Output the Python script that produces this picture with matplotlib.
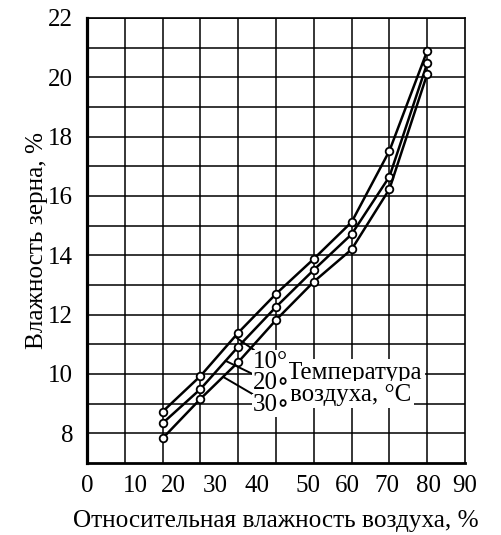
import numpy as np
import matplotlib
matplotlib.use('Agg')
import matplotlib.pyplot as plt

plt.rcParams['font.family'] = ['Liberation Serif', 'DejaVu Serif']

# relative air humidity, %
rh = [18, 27, 36, 45, 54, 63, 72, 81]
# grain moisture, % at air temperature 10, 20, 30 C
t10 = [8.73, 9.93, 11.39, 12.70, 13.88, 15.12, 17.52, 20.89]
t20 = [8.34, 9.49, 10.92, 12.26, 13.51, 14.71, 16.65, 20.47]
t30 = [7.83, 9.16, 10.40, 11.82, 13.11, 14.20, 16.23, 20.11]

x_tick_labels = ['0', '10', '20', '30', '40', '50', '60', '70', '80', '90']
# label positions as printed (irregular in the original figure)
x_tick_pos = [0, 11.4, 20.5, 30.5, 40.5, 52.6, 61.9, 71.4, 81.2, 90]
x_grid = [9, 18, 27, 36, 45, 54, 63, 72, 81]
y_ticks = list(range(8, 23))

fig = plt.figure(figsize=(5.02, 5.35), dpi=100)
ax = fig.add_axes([0.1733, 0.1346, 0.753, 0.8318])

for vals in (t10, t20, t30):
    ax.plot(rh, vals, color='black', lw=1.8, marker='o', ms=5.5,
            mfc='white', mec='black', mew=1.3, zorder=3)

ax.set_xlim(0, 90)
ax.set_ylim(7, 22)
ax.set_xticks(x_tick_pos)
ax.set_xticklabels(x_tick_labels)
ax.set_xticks(x_grid, minor=True)
ax.set_yticks(y_ticks)
ax.set_yticklabels([str(v) if v % 2 == 0 else '' for v in y_ticks])
ax.tick_params(which='both', length=0, labelsize=18)
ax.tick_params(axis='x', pad=9)
ax.tick_params(axis='y', pad=10)

ax.grid(axis='y', which='major', color='black', lw=1.1)
ax.grid(axis='x', which='minor', color='black', lw=1.1)
ax.set_axisbelow(True)

for side, w in (('left', 2.3), ('bottom', 2.0), ('top', 1.2), ('right', 1.2)):
    ax.spines[side].set_linewidth(w)

ax.set_xlabel('Относительная влажность воздуха, %', fontsize=18.2, labelpad=9)
ax.set_ylabel('Влажность зерна, %', fontsize=18.2, labelpad=0)

# temperature labels with leader lines
box = dict(boxstyle='square,pad=0.1', fc='white', ec='none')
num_box = dict(boxstyle='square,pad=0.02', fc='white', ec='none')
ax.text(47.6, 10.05, 'Температура', fontsize=18, ha='left', va='center',
        bbox=box, zorder=4)
ax.text(48.3, 9.3, 'воздуха, °C', fontsize=18, ha='left', va='center',
        bbox=box, zorder=4)
leaders = [('10°', t10, 35.2, (39.5, 10.42)),
           ('20∘', t20, 33.0, (39.5, 9.69)),
           ('30∘', t30, 32.4, (39.5, 8.95))]
for label, vals, x0, txt in leaders:
    ax.annotate(label, xy=(x0, np.interp(x0, rh, vals)), xytext=txt,
                fontsize=18, ha='left', va='center', bbox=num_box, zorder=5,
                arrowprops=dict(arrowstyle='-', color='black', lw=1.4,
                                shrinkA=0, shrinkB=0))

fig.savefig('out.png', dpi=100, facecolor='white')
